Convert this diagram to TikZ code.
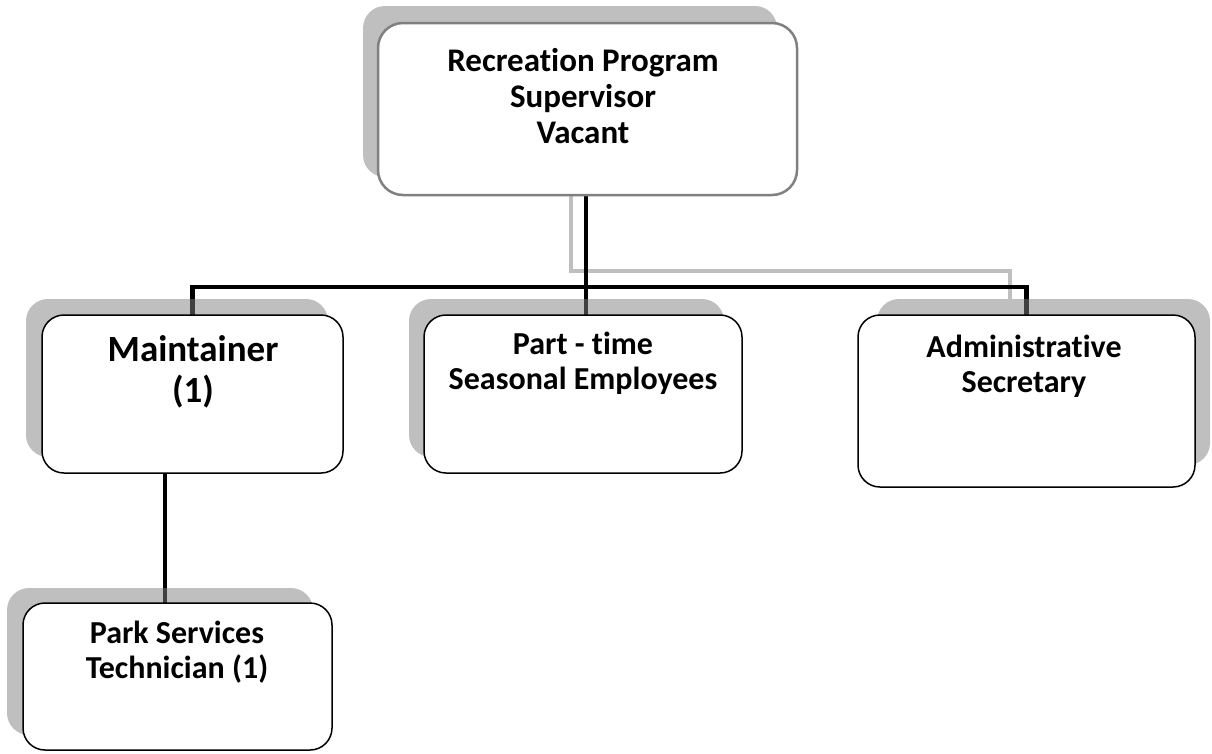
\documentclass[tikz,border=0pt]{standalone}
\usepackage{fontspec}
\setmainfont{Carlito}[Ligatures={NoCommon}]
\usetikzlibrary{calc}
\definecolor{shadowcol}{HTML}{808080}
\definecolor{topborder}{HTML}{808080}
\tikzset{
  orgbox/.style={draw=black, line width=1.5pt, fill=white, rounded corners=22pt, inner sep=0pt, outer sep=0pt},
  topbox/.style={orgbox, draw=topborder, line width=2.5pt, rounded corners=25pt},
  shadowbox/.style={fill=shadowcol, fill opacity=0.5, draw=none, rounded corners=22pt, inner sep=0pt, outer sep=0pt},
  conn/.style={draw=black, line width=4.5pt},
  shadowconn/.style={draw=shadowcol, draw opacity=0.5, line width=4.5pt},
  lbl/.style={align=center, font=\bfseries\fontsize{32}{35}\selectfont, inner sep=0pt},
}
\begin{document}
\begin{tikzpicture}[x=1pt,y=-1pt]
\useasboundingbox (0,0) rectangle (1212,753);
% coordinates for buses
\coordinate (bus) at (586,287);
\coordinate (graybus) at (571,271);
\coordinate (grayend) at (1010,299);
% gray shadow connector
\draw[shadowconn] (graybus |- 0,195) -- (graybus) -| (grayend);
% black connectors
\draw[conn] (bus |- 0,195) -- (bus);
\draw[conn] (192.5,315) |- (bus) -| (1026.5,315);
\draw[conn] (bus) -- (586,315);
\draw[conn] (165,473) -- (165,603);
% shadows
\node[shadowbox, minimum width=414pt, minimum height=171pt] (topsh) at (570,91.5) {};
\node[shadowbox, minimum width=302pt, minimum height=158pt] (maintsh) at (177,378) {};
\node[shadowbox, minimum width=315pt, minimum height=158pt] (partsh) at (566.5,378) {};
\node[shadowbox, minimum width=333pt, minimum height=166pt] (adminsh) at (1043.5,382) {};
\node[shadowbox, minimum width=306pt, minimum height=147pt] (parksh) at (160,661.5) {};
% main boxes
\node[topbox, minimum width=419pt, minimum height=172pt] (top) at (587.5,109) {};
\node[orgbox, minimum width=301pt, minimum height=158pt] (maint) at (192.5,394) {};
\node[orgbox, minimum width=318pt, minimum height=158pt] (part) at (583,394) {};
\node[orgbox, minimum width=337pt, minimum height=172pt] (admin) at (1026.5,401) {};
\node[orgbox, minimum width=309pt, minimum height=147pt] (park) at (177.5,676.5) {};
% labels
\node[lbl, font=\bfseries\fontsize{33}{36}\selectfont] (toplbl) at (583,96) {Recreation Program\\Supervisor\\Vacant};
\node[lbl, font=\bfseries\fontsize{37}{41}\selectfont] (maintlbl) at (193,372) {Maintainer\\(1)};
\node[lbl] (partlbl) at (583,363) {Part - time\\Seasonal Employees};
\node[lbl] (adminlbl) at (1024,366) {Administrative\\Secretary};
\node[lbl] (parklbl) at (177,652) {Park Services\\Technician (1)};
\end{tikzpicture}
\end{document}
